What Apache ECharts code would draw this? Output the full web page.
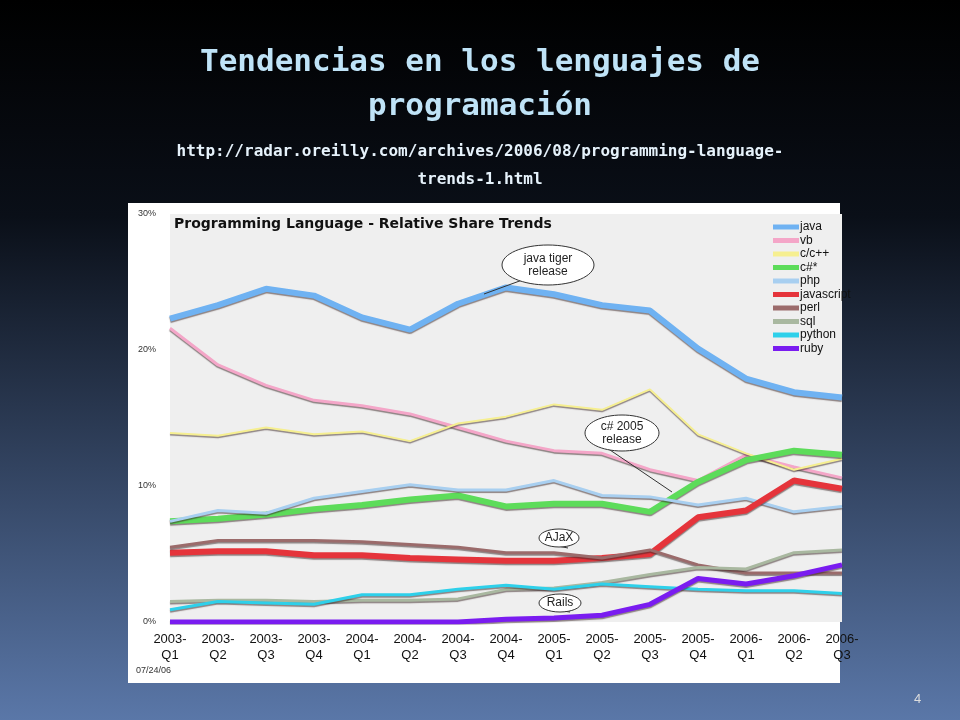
<!DOCTYPE html>
<html><head><meta charset="utf-8">
<script src="https://cdn.jsdelivr.net/npm/echarts@6/dist/echarts.min.js"></script>
<style>html,body{margin:0;padding:0;}#c{width:960px;height:720px;}</style>
</head><body><div id="c"></div>
<script>
const quarters = ['2003-\nQ1','2003-\nQ2','2003-\nQ3','2003-\nQ4','2004-\nQ1','2004-\nQ2','2004-\nQ3','2004-\nQ4','2005-\nQ1','2005-\nQ2','2005-\nQ3','2005-\nQ4','2006-\nQ1','2006-\nQ2','2006-\nQ3'];
const java = [22.3,23.3,24.5,24.0,22.4,21.5,23.4,24.6,24.1,23.3,22.9,20.1,17.9,16.9,16.5];
const vb = [21.6,18.9,17.4,16.3,15.9,15.3,14.3,13.3,12.6,12.4,11.2,10.4,12.3,11.4,10.6];
const cpp = [13.9,13.7,14.3,13.8,14.0,13.3,14.6,15.1,16.0,15.6,17.1,13.8,12.4,11.2,12.0];
const csharp = [7.4,7.6,7.9,8.3,8.6,9.0,9.3,8.5,8.7,8.7,8.1,10.3,11.9,12.6,12.3];
const php = [7.4,8.2,8.0,9.1,9.6,10.1,9.7,9.7,10.4,9.3,9.2,8.6,9.1,8.1,8.5];
const javascript = [5.1,5.2,5.2,4.9,4.9,4.7,4.6,4.5,4.5,4.7,5.0,7.7,8.2,10.4,9.8];
const perl = [5.5,6.0,6.0,6.0,5.9,5.7,5.5,5.1,5.1,4.7,5.3,4.2,3.6,3.6,3.6];
const sql = [1.5,1.6,1.6,1.5,1.6,1.6,1.7,2.4,2.5,2.9,3.5,4.0,3.9,5.1,5.3];
const python = [0.9,1.5,1.4,1.3,2.0,2.0,2.4,2.7,2.4,2.8,2.6,2.4,2.3,2.3,2.1];
const ruby = [0,0,0,0,0,0,0,0.2,0.3,0.5,1.3,3.2,2.8,3.4,4.2];
const yTicks = ['0%','10%','20%','30%'];

const seriesDefs = [
  ['java', java, '#6fb2f2', 6],
  ['vb', vb, '#f4a6c8', 3],
  ['c/c++', cpp, '#f6ef90', 2],
  ['c#*', csharp, '#5ddc5a', 6],
  ['php', php, '#a8cff0', 3],
  ['javascript', javascript, '#e5343b', 6],
  ['perl', perl, '#9b6b6b', 3],
  ['sql', sql, '#a9b8a0', 3],
  ['python', python, '#2ed0ea', 3],
  ['ruby', ruby, '#7a1cf0', 5]
];

const chart = echarts.init(document.getElementById('c'));
const bubble = (x, y, rx, ry, text, tx, ty) => [
  {type:'line', z:20, shape:{x1:x - rx*0.5, y1:y + ry*0.7, x2:tx, y2:ty}, style:{stroke:'#333', lineWidth:1}},
  {type:'ellipse', z:21, shape:{cx:x, cy:y, rx:rx, ry:ry}, style:{fill:'#fff', stroke:'#333', lineWidth:1}},
  {type:'text', z:22, x:x, y:y, style:{text:text, font:'12px "Liberation Sans", sans-serif', fill:'#222', align:'center', verticalAlign:'middle', lineHeight:13}}
];
chart.setOption({
  backgroundColor: {type:'linear', x:0, y:0, x2:0, y2:1, colorStops:[
    {offset:0, color:'#000000'}, {offset:0.3, color:'#0a0f18'}, {offset:1, color:'#5a77a8'}]},
  animation: false,
  title: [
    {text:'Tendencias en los lenguajes de\nprogramación', left:'center', top:36,
     textStyle:{color:'#bfe3f7', fontFamily:'DejaVu Sans Mono', fontWeight:'bold', fontSize:31, lineHeight:44}},
    {text:'http://radar.oreilly.com/archives/2006/08/programming-language-\ntrends-1.html', left:'center', top:133,
     textStyle:{color:'#e6f2fb', fontFamily:'DejaVu Sans Mono', fontWeight:'bold', fontSize:16, lineHeight:28}}
  ],
  graphic: [
    {type:'rect', z:-10, shape:{x:128, y:203, width:712, height:480}, style:{fill:'#ffffff'}},
    {type:'text', x:174, y:217, z:5, style:{text:'Programming Language - Relative Share Trends', font:'bold 14px "DejaVu Sans", sans-serif', fill:'#111'}},
    {type:'text', x:136, y:666, style:{text:'07/24/06', font:'9px "Liberation Sans", sans-serif', fill:'#333'}},
    {type:'text', x:914, y:693, style:{text:'4', font:'13px "Liberation Sans", sans-serif', fill:'#ddd'}},
    ...bubble(548, 265, 46, 20, 'java tiger\nrelease', 484, 294),
    ...bubble(622, 433, 37, 18, 'c# 2005\nrelease', 672, 492),
    ...bubble(559, 538, 20, 9, 'AJaX', 568, 548),
    ...bubble(560, 603, 21, 9, 'Rails', 570, 612)
  ],
  legend: {
    orient:'vertical', left:768, top:216, itemGap:1.5, itemWidth:26, itemHeight:5,
    icon:'rect', textStyle:{fontSize:12, color:'#111', fontFamily:'"Liberation Sans", sans-serif', padding:[0,0,0,-4]},
    data: seriesDefs.map(s => s[0])
  },
  grid: {left:170, right:118, top:214, bottom:98, show:true, backgroundColor:'#efefef', borderWidth:0},
  xAxis: {type:'category', data:quarters, boundaryGap:false,
    axisLine:{show:false}, axisTick:{show:false},
    axisLabel:{color:'#111', fontSize:13, lineHeight:16, margin:9, fontFamily:'"Liberation Sans", sans-serif', interval:0}},
  yAxis: {type:'value', min:0, max:30, interval:10, splitLine:{show:false},
    axisLine:{show:false}, axisTick:{show:false},
    axisLabel:{color:'#333', fontSize:9, margin:14, formatter: v => yTicks[v/10]}},
  series: seriesDefs.map(([name, data, color, w]) => ({
    name, type:'line', data, symbol:'none', color,
    lineStyle:{color, width:w, shadowColor:'rgba(60,40,40,0.55)', shadowOffsetY:1.5, shadowBlur:1}
  }))
});
</script></body></html>
